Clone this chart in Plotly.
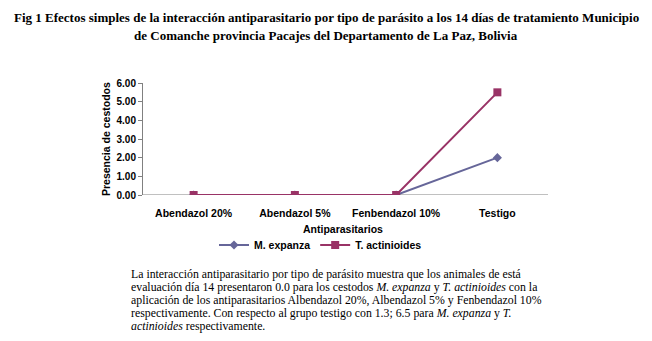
import plotly.graph_objects as go

categories = ["Abendazol 20%", "Abendazol 5%", "Fenbendazol 10%", "Testigo"]
m_expanza = [0.0, 0.0, 0.0, 2.0]
t_actinioides = [0.0, 0.0, 0.0, 5.5]
y_ticks = [0, 1, 2, 3, 4, 5, 6]
y_tick_labels = ["0.00", "1.00", "2.00", "3.00", "4.00", "5.00", "6.00"]

title_lines = [
    "Fig 1 Efectos simples de la interacción antiparasitario por tipo de parásito a los 14 días de tratamiento Municipio",
    "de Comanche provincia Pacajes del Departamento de La Paz, Bolivia",
]
paragraph_lines = [
    "La interacción antiparasitario por tipo de parásito muestra que los animales de está",
    "evaluación día 14 presentaron 0.0 para los cestodos <i>M. expanza</i> y <i>T. actinioides</i> con la",
    "aplicación de los antiparasitarios Albendazol 20%, Albendazol 5% y Fenbendazol 10%",
    "respectivamente. Con respecto al grupo testigo con 1.3; 6.5 para <i>M. expanza</i> y <i>T.</i>",
    "<i>actinioides</i> respectivamente.",
]

# page has an 8px body margin: figure placed at (8, 8)
OFF = 8
W, H = 652 - OFF, 341 - OFF
L, R, T, B = 143 - OFF, 548 - OFF, 83 - OFF, 195 - OFF
pw, ph = R - L, B - T

def px(x):
    return (x - OFF - L) / pw

def py(y):
    return (B - (y - OFF)) / ph

fig = go.Figure()
fig.add_trace(go.Scatter(
    x=categories, y=m_expanza, name="<b>M. expanza</b>", mode="lines+markers",
    line=dict(color="#666699", width=2),
    marker=dict(symbol="diamond", size=7, color="#666699"),
))
fig.add_trace(go.Scatter(
    x=categories, y=t_actinioides, name="<b>T. actinioides</b>", mode="lines+markers",
    line=dict(color="#993366", width=2),
    marker=dict(symbol="square", size=8, color="#993366"),
))

sans = "Liberation Sans, Arial, sans-serif"
serif = "Liberation Serif, Times New Roman, serif"

ann = []
for i, t in enumerate(title_lines):
    ann.append(dict(text="<b>" + t + "</b>", x=px(326), y=py(17 + 18 * i), xref="paper", yref="paper",
                    showarrow=False, xanchor="center", yanchor="middle",
                    font=dict(family=serif, size=13, color="black")))
for i, t in enumerate(paragraph_lines):
    ann.append(dict(text=t, x=px(129), y=py(274 + 13 * i), xref="paper", yref="paper",
                    showarrow=False, xanchor="left", yanchor="middle",
                    font=dict(family=serif, size=11.8, color="black")))
ann.append(dict(text="<b>Antiparasitarios</b>", x=px(343), y=py(229), xref="paper", yref="paper",
                showarrow=False, xanchor="center", yanchor="middle",
                font=dict(family=sans, size=10.5, color="black")))
ann.append(dict(text="<b>Presencia de cestodos</b>", x=px(106), y=py(139), xref="paper", yref="paper",
                showarrow=False, xanchor="center", yanchor="middle", textangle=-90,
                font=dict(family=sans, size=10.5, color="black")))

fig.update_layout(
    width=W, height=H,
    margin=dict(l=L, r=W - R, t=T, b=H - B, pad=0, autoexpand=False),
    paper_bgcolor="white", plot_bgcolor="white",
    showlegend=True,
    legend=dict(orientation="h", x=px(214), y=py(245), xanchor="left", yanchor="middle",
                font=dict(family=sans, size=10.5, color="black"),
                bgcolor="rgba(0,0,0,0)", itemwidth=30, tracegroupgap=0),
    annotations=ann,
    font=dict(family=sans, color="black"),
)
fig.update_xaxes(
    type="category", range=[-0.5, 3.5], showgrid=False, zeroline=False,
    showline=False, ticks="", ticklabelstandoff=10,
    tickfont=dict(family=sans, size=10.5, color="black"),
    tickvals=categories, ticktext=["<b>" + c + "</b>" for c in categories],
)
fig.update_yaxes(
    range=[0, 6], tickvals=y_ticks, ticktext=["<b>" + t + "</b>" for t in y_tick_labels],
    showgrid=False, zeroline=False, showline=True, linecolor="#808080", linewidth=1,
    ticks="outside", ticklen=4, tickcolor="#808080",
    tickfont=dict(family=sans, size=10, color="black"),
)
fig.add_shape(type="line", xref="paper", yref="y", x0=0, x1=1, y0=0, y1=0,
              line=dict(color="#808080", width=1), layer="below")

fig.write_html("out.html")
